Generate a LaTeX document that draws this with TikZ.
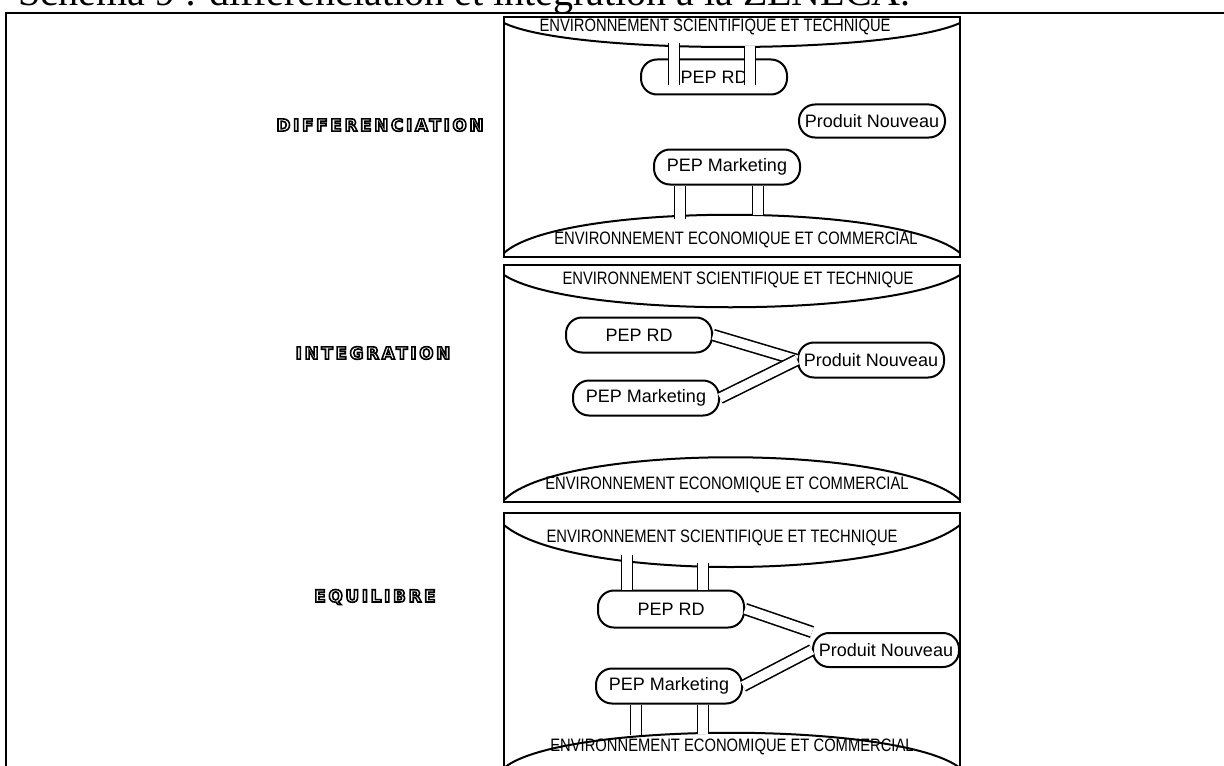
\documentclass[tikz,border=0pt]{standalone}
\usepackage{fontspec}
\setmainfont{Liberation Sans}
\newfontfamily\titlefont{Liberation Serif}
\newfontfamily\envfont[FakeStretch=0.82]{Liberation Sans}
\newfontfamily\phasefont[LetterSpace=16]{DejaVu Sans Bold}
% hollow letters for the phase names
\newcommand{\hollow}[1]{\special{pdf:literal direct 1 Tr 0.8 w}#1\special{pdf:literal direct 0 Tr}}
\usetikzlibrary{calc}

\begin{document}
\begin{tikzpicture}[
            x=0.5pt, y=-0.5pt,
            frame/.style={draw, line width=1.1pt},
            panel/.style={draw, line width=1.3pt},
            envcurve/.style={draw, line width=1pt},
            envlabel/.style={inner sep=0pt, font=\envfont\fontsize{9}{10}\selectfont},
            pep/.style={
                draw,
                line width=1pt,
                rounded corners=8pt,
                minimum width=73pt,
                minimum height=17.5pt,
                inner sep=0pt,
                font=\fontsize{9}{10}\selectfont
            },
            phase/.style={inner sep=0pt, font=\phasefont\fontsize{8.4}{9}\selectfont},
            pair/.style={double, double distance=4.6pt, line width=0.8pt}
        ]
            \useasboundingbox (0,0) rectangle (1224,765);

            % title, cut by the page edge
            \node[anchor=base west, inner sep=0pt, font=\titlefont\fontsize{20}{22}\selectfont]
                (title) at (18,6) {Schéma 9 : différenciation et intégration à la ZENECA.};
            \draw[frame] (6,790) -- (6,13) -- (1240,13);

            % phases
            \node[phase] (diff) at (380,125) {\hollow{DIFFERENCIATION}};
            \node[phase] (integ) at (373,353) {\hollow{INTEGRATION}};
            \node[phase] (equil) at (375,597) {\hollow{EQUILIBRE}};

            % panel 1 : differenciation
            \draw[panel] (504,17) rectangle (960,257);
            \draw[envcurve] (504,23) .. controls (570,55) and (890,55) .. (960,23);
            \draw[envcurve] (504,253) .. controls (560,202) and (900,202) .. (960,253);
            \node[envlabel] (sci1) at (715,27) {ENVIRONNEMENT SCIENTIFIQUE ET TECHNIQUE};
            \node[envlabel] (eco1) at (736,240) {ENVIRONNEMENT ECONOMIQUE ET COMMERCIAL};
            \node[pep] (rd1) at (714,77) {PEP RD};
            \node[pep, minimum height=16.5pt] (pn1) at (872,121) {Produit Nouveau};
            \node[pep] (mk1) at (727,167) {PEP Marketing};
            \coordinate (t1a) at (674,43);
            \coordinate (t1b) at (750,46);
            \coordinate (b1a) at (680,219);
            \coordinate (b1b) at (758,215);
            \draw[pair, shorten >=5pt] (t1a) -- (t1a |- rd1.south);
            \draw[pair, shorten >=5pt] (t1b) -- (t1b |- rd1.south);
            \draw[pair] (mk1.south -| b1a) -- (b1a);
            \draw[pair] (mk1.south -| b1b) -- (b1b);

            % panel 2 : integration
            \draw[panel] (504,265) rectangle (960,502);
            \draw[envcurve] (504,275) .. controls (570,318) and (890,318) .. (960,275);
            \draw[envcurve] (504,500) .. controls (560,443) and (900,443) .. (960,500);
            \node[envlabel] (sci2) at (738,280) {ENVIRONNEMENT SCIENTIFIQUE ET TECHNIQUE};
            \node[envlabel] (eco2) at (727,485) {ENVIRONNEMENT ECONOMIQUE ET COMMERCIAL};
            \node[pep] (rd2) at (639,335) {PEP RD};
            \node[pep] (mk2) at (646,398) {PEP Marketing};
            \node[pep] (pn2) at (871,360) {Produit Nouveau};
            \draw[pair] (rd2.east) -- (pn2.west);
            \draw[pair] (mk2.east) -- (pn2.west);

            % panel 3 : equilibre
            \draw[panel] (504,513) rectangle (960,790);
            \draw[envcurve] (504,525) .. controls (570,581) and (890,581) .. (960,525);
            \draw[envcurve] (504,768) .. controls (560,721) and (900,721) .. (960,768);
            \node[envlabel] (sci3) at (722,538) {ENVIRONNEMENT SCIENTIFIQUE ET TECHNIQUE};
            \node[envlabel] (eco3) at (732,747) {ENVIRONNEMENT ECONOMIQUE ET COMMERCIAL};
            \node[pep, minimum height=18.5pt] (rd3) at (671,609) {PEP RD};
            \node[pep, minimum height=17pt] (pn3) at (886,650) {Produit Nouveau};
            \node[pep] (mk3) at (669,686) {PEP Marketing};
            \coordinate (t3a) at (627,555);
            \coordinate (t3b) at (703,563);
            \coordinate (b3a) at (636,735);
            \coordinate (b3b) at (703,734);
            \draw[pair] (t3a) -- (t3a |- rd3.north);
            \draw[pair] (t3b) -- (t3b |- rd3.north);
            \draw[pair] (mk3.south -| b3a) -- (b3a);
            \draw[pair] (mk3.south -| b3b) -- (b3b);
            \draw[pair] (rd3.east) -- (pn3.north west);
            \draw[pair] (mk3.east) -- (pn3.west);
        \end{tikzpicture}
\end{document}
